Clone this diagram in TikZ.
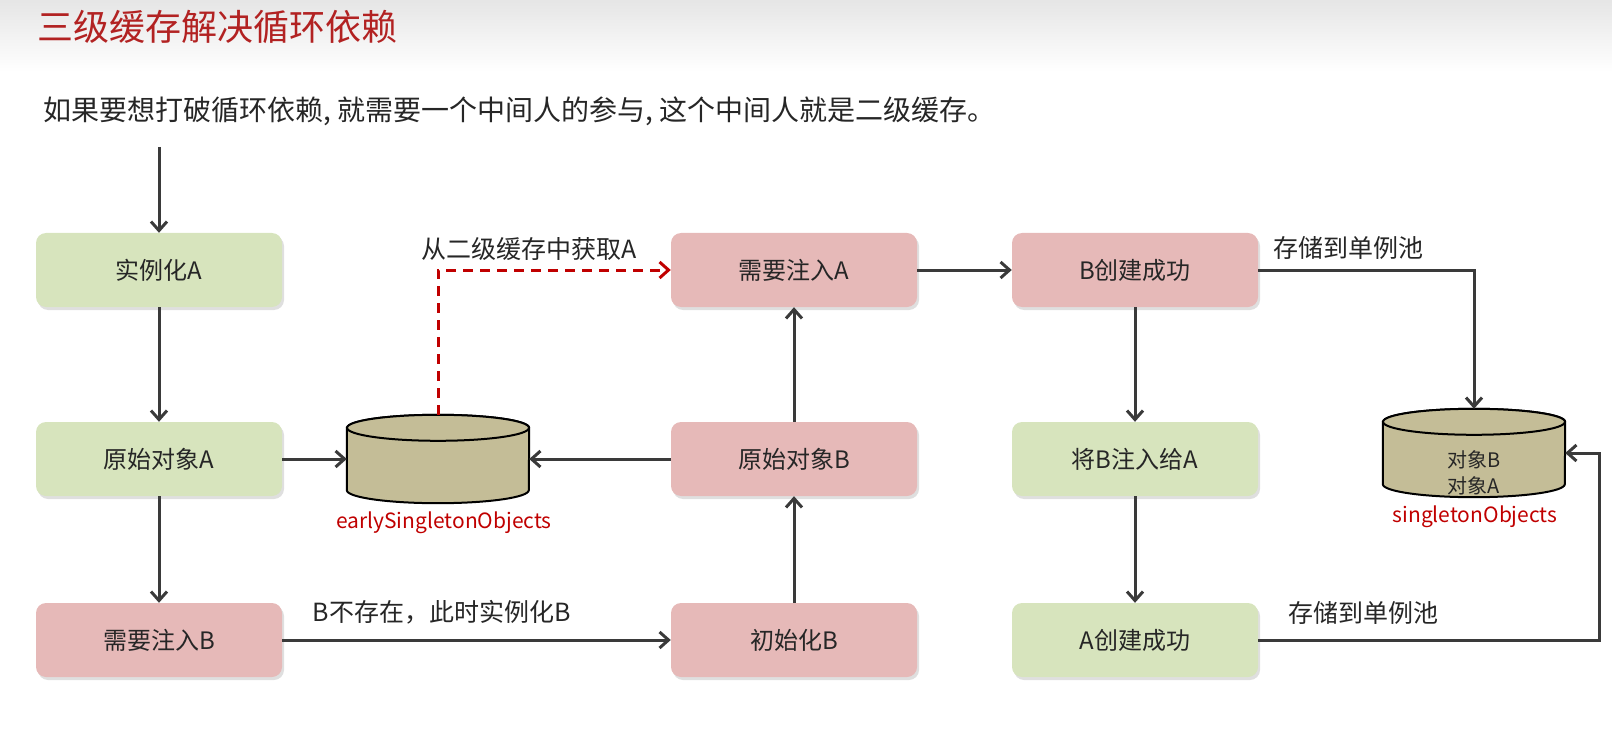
\documentclass[tikz,border=0pt]{standalone}
\usepackage{fontspec}
\setmainfont{Noto Sans CJK SC}
\usetikzlibrary{arrows.meta,shadows,backgrounds}

\definecolor{boxgreen}{RGB}{215,228,189}
\definecolor{boxpink}{RGB}{230,185,184}
\definecolor{dbfill}{RGB}{196,189,151}
\definecolor{linegray}{RGB}{58,58,58}
\definecolor{textgray}{RGB}{38,38,38}
\definecolor{darkred}{RGB}{192,0,0}
\definecolor{titlered}{RGB}{178,34,34}

\tikzset{
  box/.style={rounded corners=10pt,minimum width=246pt,minimum height=74pt,
    text=textgray,font=\fontsize{24}{24}\selectfont,
    drop shadow={opacity=0.25,shadow xshift=2pt,shadow yshift=-3pt}},
  greenbox/.style={box,fill=boxgreen},
  pinkbox/.style={box,fill=boxpink},
  db/.style={minimum width=182pt,minimum height=88pt,inner sep=0pt},
  dbshape/.style={draw=black,line width=2pt,fill=dbfill},
  dbtext/.style={text=textgray,font=\fontsize{20}{26}\selectfont,align=center},
  dbname/.style={text=darkred,font=\fontsize{21}{21}\selectfont},
  flow/.style={draw=linegray,line width=3pt,-{Straight Barb[length=9pt,width=16pt]}},
  redflow/.style={flow,draw=darkred,dash pattern=on 10pt off 7pt},
  lbl/.style={text=textgray,font=\fontsize{25}{25}\selectfont},
}

\begin{document}
\begin{tikzpicture}[x=1pt,y=-1pt]
\useasboundingbox (0,0) rectangle (1612,730);
% title bar
\shade[top color=black!10,bottom color=white] (0,0) rectangle (1612,72);
\node[anchor=west,text=titlered,font=\fontsize{36}{36}\selectfont] (title) at (34,27) {三级缓存解决循环依赖};
\node[anchor=west,text=textgray,font=\fontsize{28}{28}\selectfont] (intro) at (40,111) {如果要想打破循环依赖, 就需要一个中间人的参与, 这个中间人就是二级缓存。};

% A side
\coordinate (start) at (159,147);
\node[greenbox] (instA) at (159,270) {实例化A};
\node[greenbox] (rawA) at (159,459) {原始对象A};
\node[pinkbox] (needB) at (159,640) {需要注入B};

% B side
\node[pinkbox] (needA) at (794,270) {需要注入A};
\node[pinkbox] (rawB) at (794,459) {原始对象B};
\node[pinkbox] (initB) at (794,640) {初始化B};

% finish
\node[pinkbox] (bok) at (1135,270) {B创建成功};
\node[greenbox] (inject) at (1135,459) {将B注入给A};
\node[greenbox] (aok) at (1135,640) {A创建成功};

% caches
\node[db] (early) at (438,459) {};
\node[dbname] (earlyname) at (444,523) {earlySingletonObjects};
\node[db] (single) at (1474,453) {};
\node[dbtext] (singletext) at (1474,473) {对象B\\对象A};
\node[dbname] (singlename) at (1475,517) {singletonObjects};
\coordinate (turn) at (1599,640);

\begin{scope}[on background layer]
\foreach \c in {early,single}{
  \draw[dbshape] ([yshift=-13pt]\c.north west) -- ([yshift=13pt]\c.south west)
    arc[start angle=180,end angle=360,x radius=91pt,y radius=13pt]
    -- ([yshift=-13pt]\c.north east)
    arc[start angle=0,end angle=180,x radius=91pt,y radius=13pt] -- cycle;
  \draw[dbshape] ([yshift=-13pt]\c.north) ellipse[x radius=91pt,y radius=13pt];
}
\end{scope}

\draw[flow] (start) -- (instA);
\draw[flow] (instA) -- (rawA);
\draw[flow] (rawA) -- (needB);
\draw[flow] (rawA.east) -- (early.west);
\draw[flow] (rawB.west) -- (early.east);
\draw[flow] (needB) -- node[lbl,above=11pt,pos=0.41] (lblB) {B不存在，此时实例化B} (initB);
\draw[flow] (initB) -- (rawB);
\draw[flow] (rawB) -- (needA);
\draw[redflow] (early.north) |- node[lbl,above=5pt,pos=0.695] (lblget) {从二级缓存中获取A} (needA.west);
\draw[flow] (needA) -- (bok);
\draw[flow] (bok) -- (inject);
\draw[flow] (inject) -- (aok);
\draw[flow] (bok.east) -| node[lbl,above=6pt,pos=0.21] (lblstore1) {存储到单例池} (single.north);
\draw[flow] (aok.east) -- node[lbl,above=11pt,pos=0.31] (lblstore2) {存储到单例池} (turn) |- (single.east);
\end{tikzpicture}
\end{document}
